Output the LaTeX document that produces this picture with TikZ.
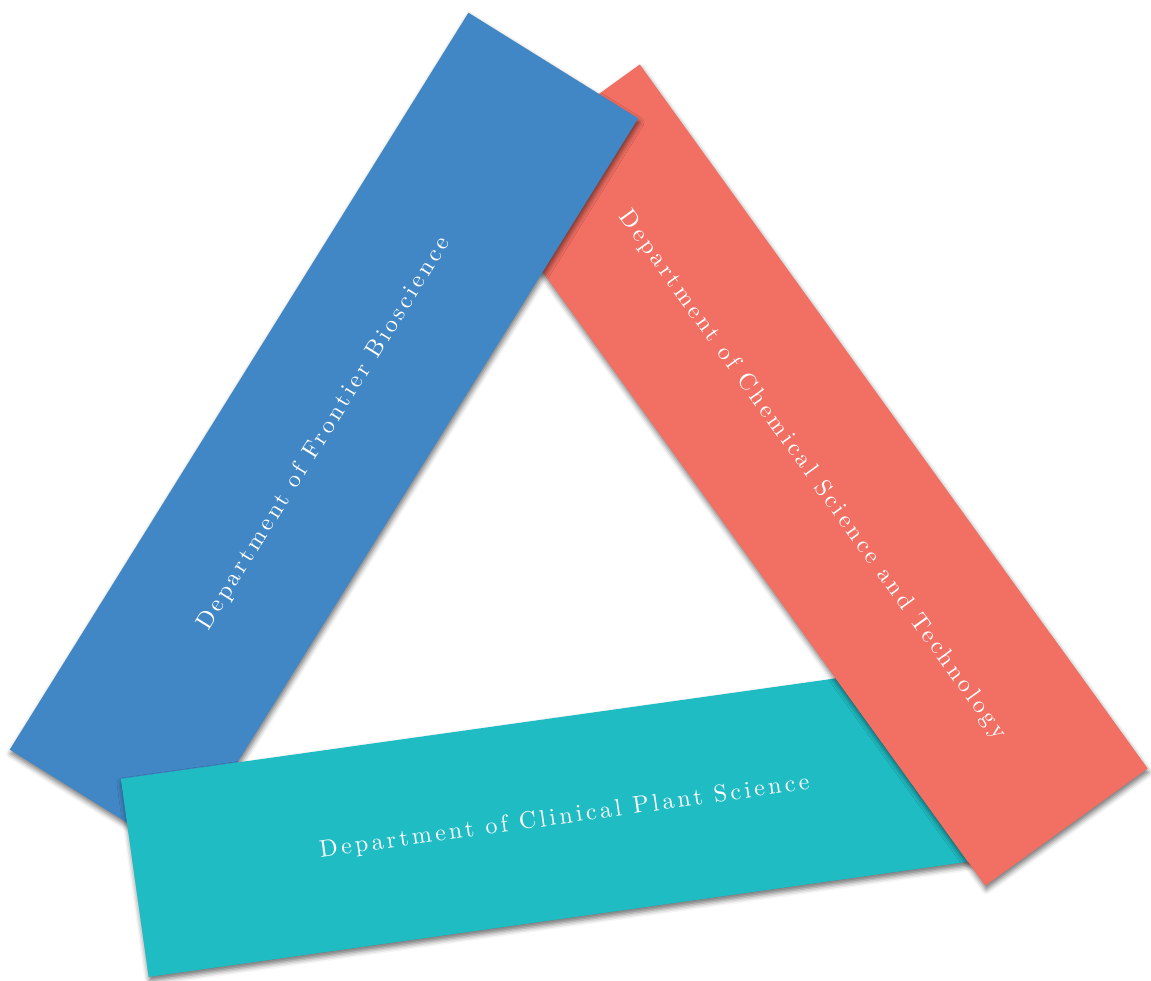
\documentclass[tikz,border=0pt]{standalone}
\usepackage{fontspec}
\usepackage{tikz}
\usetikzlibrary{shadows.blur}

\newfontfamily\barfont{lmroman10-regular.otf}[LetterSpace=14]

\definecolor{frontierblue}{RGB}{66,135,197}
\definecolor{chemred}{RGB}{242,111,99}
\definecolor{plantteal}{RGB}{32,188,196}

\begin{document}
\begin{tikzpicture}[x=1pt,y=1pt,
  bar/.style={rectangle,inner sep=0pt,minimum width=868pt,minimum height=200pt},
  shadowed/.style={blur shadow={shadow xshift=1pt,shadow yshift=-4pt,
      shadow blur radius=5pt,shadow opacity=55}},
  label/.style={text=white,font=\barfont\fontsize{24}{28}\selectfont}]
  \useasboundingbox (0,0) rectangle (1151,980);

  % --- the three bars: red under blue, blue under teal ---
  \node[bar,shadowed,fill=chemred,rotate=-54.2] (chem) at (812.5,505) {};
  \node[bar,shadowed,fill=frontierblue,rotate=58.1] (bio) at (324,546) {};
  \node[bar,shadowed,fill=plantteal,rotate=8] (plant) at (564.5,162.5) {};

  % --- red shadow falling on teal ---
  \begin{scope}
    \clip (plant.north west) -- (plant.north east) -- (plant.south east)
      -- (plant.south west) -- cycle;
    \fill[chemred,shadowed] (chem.north west) -- (chem.north east)
      -- (chem.south east) -- (chem.south west) -- cycle;
  \end{scope}

  % --- red on top of teal ---
  \begin{scope}
    \clip (750,0) rectangle (1151,345);
    \node[bar,fill=chemred,rotate=-54.2] (chemtop) at (chem) {};
  \end{scope}

  % --- department names ---
  \node[label,rotate=-54.2] (chemname) at (chem)
    {Department of Chemical Science and Technology};
  \node[label,rotate=58.1] (bioname) at (bio)
    {Department of Frontier Bioscience};
  \node[label,rotate=8] (plantname) at (plant)
    {Department of Clinical Plant Science};
\end{tikzpicture}
\end{document}
